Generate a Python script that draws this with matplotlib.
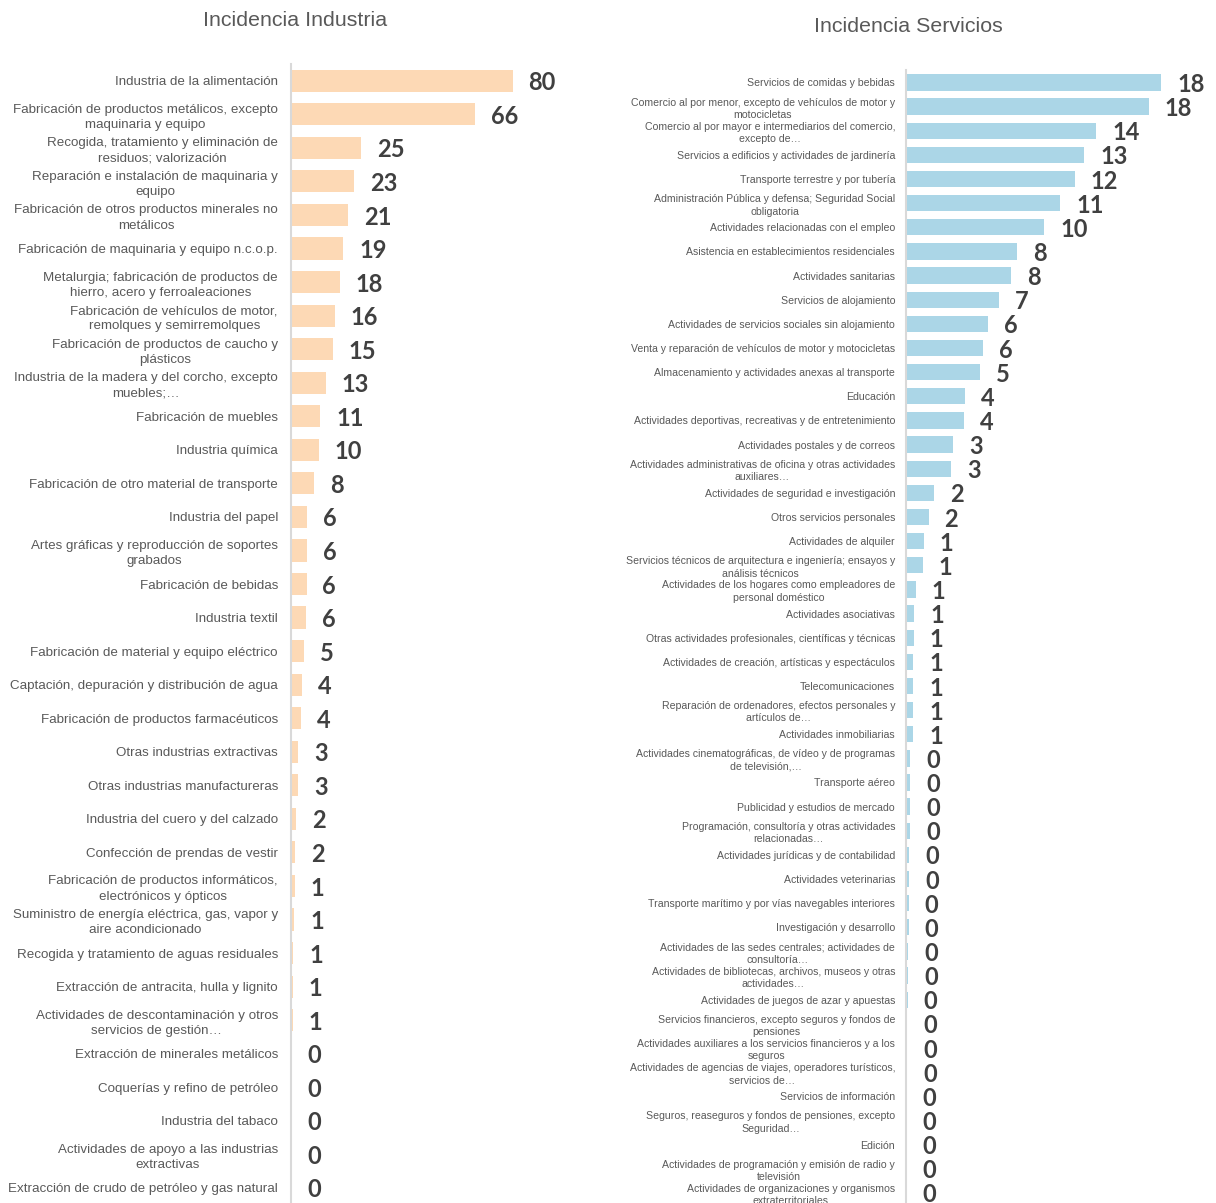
import matplotlib
matplotlib.use("Agg")
import matplotlib.pyplot as plt

# --- data -------------------------------------------------------------
industria_labels = [
    "Industria de la alimentación",
    "Fabricación de productos metálicos, excepto\nmaquinaria y equipo",
    "Recogida, tratamiento y eliminación de\nresiduos; valorización",
    "Reparación e instalación de maquinaria y\nequipo",
    "Fabricación de otros productos minerales no\nmetálicos",
    "Fabricación de maquinaria y equipo n.c.o.p.",
    "Metalurgia; fabricación de productos de\nhierro, acero y ferroaleaciones",
    "Fabricación de vehículos de motor,\nremolques y semirremolques",
    "Fabricación de productos de caucho y\nplásticos",
    "Industria de la madera y del corcho, excepto\nmuebles;…",
    "Fabricación de muebles",
    "Industria química",
    "Fabricación de otro material de transporte",
    "Industria del papel",
    "Artes gráficas y reproducción de soportes\ngrabados",
    "Fabricación de bebidas",
    "Industria textil",
    "Fabricación de material y equipo eléctrico",
    "Captación, depuración y distribución de agua",
    "Fabricación de productos farmacéuticos",
    "Otras industrias extractivas",
    "Otras industrias manufactureras",
    "Industria del cuero y del calzado",
    "Confección de prendas de vestir",
    "Fabricación de productos informáticos,\nelectrónicos y ópticos",
    "Suministro de energía eléctrica, gas, vapor y\naire acondicionado",
    "Recogida y tratamiento de aguas residuales",
    "Extracción de antracita, hulla y lignito",
    "Actividades de descontaminación y otros\nservicios de gestión…",
    "Extracción de minerales metálicos",
    "Coquerías y refino de petróleo",
    "Industria del tabaco",
    "Actividades de apoyo a las industrias\nextractivas",
    "Extracción de crudo de petróleo y gas natural",
]
industria_values = [
    80.0, 66.4, 25.2, 22.8, 20.6, 18.9, 17.6, 15.8, 15.0, 12.6,
    10.6, 10.1, 8.2, 5.8, 5.7, 5.6, 5.55, 4.7, 3.9, 3.7,
    2.6, 2.6, 1.7, 1.6, 1.3, 1.1, 0.9, 0.7, 0.6, 0.1,
    0.05, 0.0, 0.0, 0.0,
]

servicios_labels = [
    "Servicios de comidas y bebidas",
    "Comercio al por menor, excepto de vehículos de motor y\nmotocicletas",
    "Comercio al por mayor e intermediarios del comercio,\nexcepto de…",
    "Servicios a edificios y actividades de jardinería",
    "Transporte terrestre y por tubería",
    "Administración Pública y defensa; Seguridad Social\nobligatoria",
    "Actividades relacionadas con el empleo",
    "Asistencia en establecimientos residenciales",
    "Actividades sanitarias",
    "Servicios de alojamiento",
    "Actividades de servicios sociales sin alojamiento",
    "Venta y reparación de vehículos de motor y motocicletas",
    "Almacenamiento y actividades anexas al transporte",
    "Educación",
    "Actividades deportivas, recreativas y de entretenimiento",
    "Actividades postales y de correos",
    "Actividades administrativas de oficina y otras actividades\nauxiliares…",
    "Actividades de seguridad e investigación",
    "Otros servicios personales",
    "Actividades de alquiler",
    "Servicios técnicos de arquitectura e ingeniería; ensayos y\nanálisis técnicos",
    "Actividades de los hogares como empleadores de\npersonal doméstico",
    "Actividades asociativas",
    "Otras actividades profesionales, científicas y técnicas",
    "Actividades de creación, artísticas y espectáculos",
    "Telecomunicaciones",
    "Reparación de ordenadores, efectos personales y\nartículos de…",
    "Actividades inmobiliarias",
    "Actividades cinematográficas, de vídeo y de programas\nde televisión,…",
    "Transporte aéreo",
    "Publicidad y estudios de mercado",
    "Programación, consultoría y otras actividades\nrelacionadas…",
    "Actividades jurídicas y de contabilidad",
    "Actividades veterinarias",
    "Transporte marítimo y por vías navegables interiores",
    "Investigación y desarrollo",
    "Actividades de las sedes centrales; actividades de\nconsultoría…",
    "Actividades de bibliotecas, archivos, museos y otras\nactividades…",
    "Actividades de juegos de azar y apuestas",
    "Servicios financieros, excepto seguros y fondos de\npensiones",
    "Actividades auxiliares a los servicios financieros y a los\nseguros",
    "Actividades de agencias de viajes, operadores turísticos,\nservicios de…",
    "Servicios de información",
    "Seguros, reaseguros y fondos de pensiones, excepto\nSeguridad…",
    "Edición",
    "Actividades de programación y emisión de radio y\ntelevisión",
    "Actividades de organizaciones y organismos\nextraterritoriales",
]
servicios_values = [
    18.48, 17.58, 13.79, 12.92, 12.22, 11.18, 10.02, 8.04, 7.63, 6.74,
    5.97, 5.58, 5.38, 4.27, 4.23, 3.41, 3.26, 2.05, 1.64, 1.30,
    1.20, 0.72, 0.60, 0.55, 0.53, 0.52, 0.51, 0.51, 0.31, 0.31,
    0.29, 0.29, 0.24, 0.22, 0.19, 0.19, 0.15, 0.15, 0.12, 0.10,
    0.10, 0.10, 0.05, 0.05, 0.02, 0.01, 0.0,
]

# --- figure -----------------------------------------------------------
W, H = 1216, 1203
fig = plt.figure(figsize=(W / 100, H / 100), dpi=100)

label_color = "#595959"
value_color = "#404040"
spine_color = "#d9d9d9"


def px_axes(x0, y0, x1, y1):
    """axes from pixel box (top-left origin)"""
    return fig.add_axes([x0 / W, 1 - y1 / H, (x1 - x0) / W, (y1 - y0) / H])


def draw_panel(ax, labels, values, color, xmax, nrows_lim, bar_h,
               label_size, pad, linespacing):
    n = len(labels)
    ypos = list(range(n))
    ax.barh(ypos, values, height=bar_h, color=color, edgecolor="none")
    ax.set_xlim(0, xmax)
    ax.set_ylim(nrows_lim, -0.5)
    ax.set_yticks(ypos)
    ax.set_yticklabels(labels, fontsize=label_size, color=label_color,
                       family="Liberation Sans", linespacing=linespacing)
    for t in ax.get_yticklabels():
        t.set_multialignment("center")
    ax.tick_params(axis="y", length=0, pad=pad)
    ax.set_xticks([])
    for s in ["top", "right", "bottom"]:
        ax.spines[s].set_visible(False)
    ax.spines["left"].set_color(spine_color)
    ax.spines["left"].set_linewidth(1.5)
    ax.patch.set_alpha(0)
    for y, v in zip(ypos, values):
        ax.annotate(f"{v:.0f}", xy=(v, y), xytext=(11.5, -1.5),
                    textcoords="offset points", ha="left", va="center",
                    fontsize=17, fontweight="bold", color=value_color,
                    family="Lato", annotation_clip=False)


# left panel: Industria
ax1 = px_axes(291, 64, 568, 1203)
draw_panel(ax1, industria_labels, industria_values, "#fdd9b5",
           100, 33.45, 0.66, 9.6, 9.4, 1.35)

# right panel: Servicios
ax2 = px_axes(906, 70.4, 1182, 1203)
draw_panel(ax2, servicios_labels, servicios_values, "#abd6e7",
           20, 46.42, 0.675, 7.6, 7.9, 1.3)

fig.text(295 / W, 1 - 20 / H, "Incidencia Industria", ha="center",
         va="center", fontsize=15.4, color=label_color,
         family="Liberation Sans")
fig.text(908 / W, 1 - 26 / H, "Incidencia Servicios", ha="center",
         va="center", fontsize=15.4, color=label_color,
         family="Liberation Sans")

fig.savefig("out.png", dpi=100)
